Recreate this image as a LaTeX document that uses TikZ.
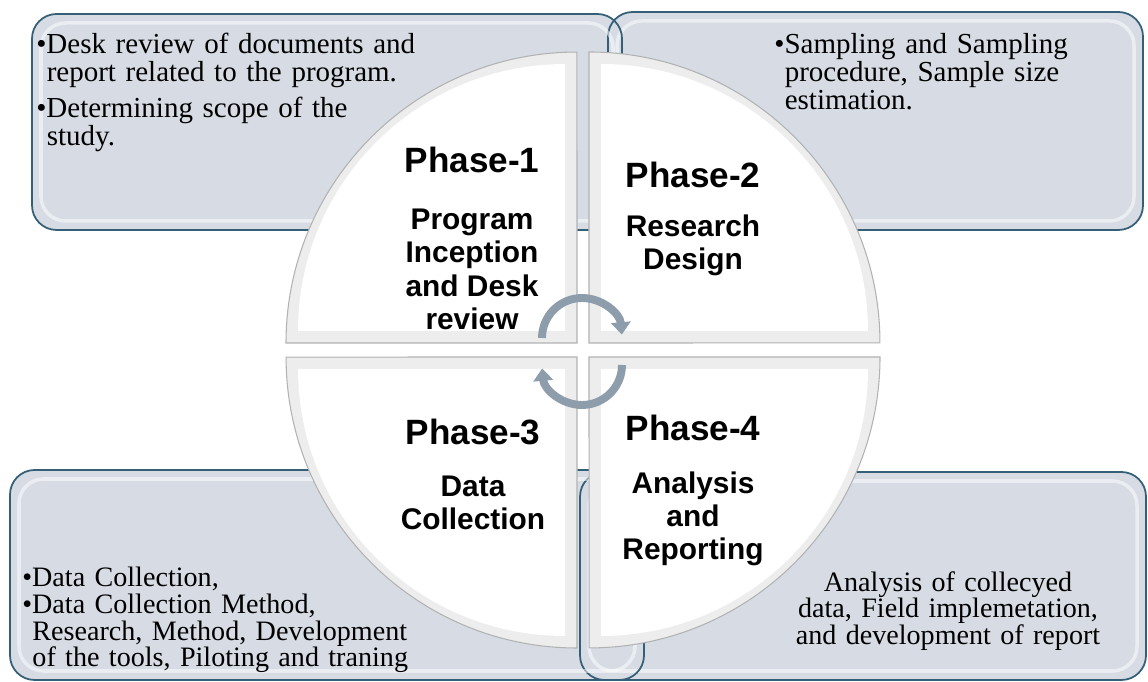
\documentclass[tikz,border=0pt]{standalone}
\usepackage{fontspec}
\setmainfont{Liberation Serif}
\newfontfamily\phasefont{Liberation Sans}
\usetikzlibrary{positioning,arrows.meta}
\definecolor{boxfill}{RGB}{214,219,228}
\definecolor{boxedge}{RGB}{52,95,118}
\definecolor{cyclegray}{RGB}{141,157,171}
\newcommand{\bul}{\par\noindent\hangindent=0.36em\hangafter=1\textbullet}

\begin{document}
\begin{tikzpicture}
            [
            x=0.02cm, y=0.02cm,
            box/.style={rounded corners=14pt, line width=1pt},
            quad/.style={fill=gray!14, draw=gray!60, line width=0.6pt},
            phase/.style={font=\phasefont\bfseries\fontsize{20}{24}\selectfont, inner sep=0pt},
            stage/.style={font=\phasefont\bfseries\fontsize{17}{19}\selectfont,
                align=center, inner sep=0pt},
            note/.style={font=\fontsize{16.5}{16}\selectfont\setlength{\parskip}{4.5pt},
                align=left, text width=#1, inner sep=0pt, anchor=north west},
            tight note/.style={note=#1, font=\fontsize{16}{15}\selectfont\setlength{\parskip}{0.5pt}},
            cycle arrow/.style={-{Triangle[width=11pt,length=7pt]}, line width=4.5pt, cyclegray}
            ]

            \useasboundingbox (0,0) rectangle (1148,682);

            % Boxes behind the circle
            \foreach \x/\y/\X/\Y in {608/452/1143/670, 580/2/1146/210, 32/452/622/668, 10/2/644/212}{
                \fill [box, boxfill] (\x,\y) rectangle (\X,\Y);
            }
            \foreach \x/\y/\X/\Y in {608/452/1143/670, 580/2/1146/210, 32/452/622/668, 10/2/644/212}{
                \draw [box, white, opacity=0.5, line width=2pt] (\x+9,\y+9) rectangle (\X-9,\Y-9);
                \draw [box, boxedge] (\x,\y) rectangle (\X,\Y);
            }

            % Quarter discs
            \foreach \cx/\cy/\r in {577/339/0, 589/339/-90, 577/325/90, 589/325/180}{
                \begin{scope}[shift={(\cx,\cy)}, rotate=\r]
                    \path [quad] (0,0) -- (-291,0) arc[start angle=180, end angle=90, radius=5.82cm] -- cycle;
                    \fill [white] (-12,12) -- (-279,12) arc[start angle=180, end angle=90, radius=5.34cm] -- cycle;
                \end{scope}
            }

            \node (p1) [phase] at (472,522) {Phase-1};
            \node (s1) [stage, below=20pt of p1] {Program\\Inception\\and Desk\\review};
            \node (p2) [phase] at (693,507) {Phase-2};
            \node (s2) [stage, below=15pt of p2] {Research\\Design};
            \node (p3) [phase] at (473,250) {Phase-3};
            \node (s3) [stage, below=17pt of p3] {Data\\Collection};
            \node (p4) [phase] at (693,254) {Phase-4};
            \node (s4) [stage, below=17pt of p4] {Analysis\\and\\Reporting};

            \node (n1) [note=9cm] at (36,665) {\bul Desk review of documents and\newline report related to the program.
                \bul Determining scope of the\newline study.\par};
            \node (n2) [note=8cm] at (774,665) {\bul Sampling and Sampling\newline procedure, Sample size\newline estimation.\par};
            \node (n3) [tight note=9cm] at (22,123) {\bul Data Collection,
                \bul Data Collection Method,\newline Research, Method, Development\newline of the tools, Piloting and traning\par};
            \node (n4) [text width=9cm, font=\fontsize{16}{15}\selectfont,
                align=center, inner sep=0pt] at (948,71)
                {Analysis of collecyed\\data, Field implemetation,\\and development of report};

            \coordinate (hubT) at (582,344);
            \coordinate (hubB) at (582,317);
            \draw [cycle arrow] ([shift={(180:0.8cm)}]hubT) arc[start angle=180, end angle=5, radius=0.8cm];
            \draw [cycle arrow] ([shift={(0:0.8cm)}]hubB) arc[start angle=0, end angle=-175, radius=0.8cm];

\end{tikzpicture}
\end{document}
